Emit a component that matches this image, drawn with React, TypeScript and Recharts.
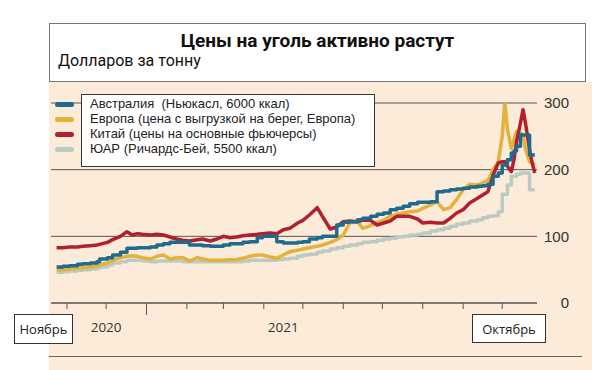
import { LineChart, Line, XAxis, YAxis, CartesianGrid } from "recharts";

// days since 1 Nov 2020
const days = [
  -8, -3, 2, 8, 12, 18, 23, 25, 31, 35,
  41, 46, 50, 54, 58, 64, 69, 74, 79, 84,
  89, 94, 100, 104, 110, 115, 120, 125, 130, 135,
  140, 146, 150, 156, 161, 166, 171, 177, 181, 186,
  192, 196, 202, 207, 212, 217, 223, 227, 233, 238,
  243, 248, 253, 258, 263, 269, 273, 279, 284, 289,
  294, 299, 304, 309, 315, 319, 323, 327, 331, 334,
  336, 338, 341, 343, 345, 348, 350, 352, 355, 357,
  359,
];

const australia = [
  54, 55, 56, 58, 59, 60, 62, 66, 68, 72,
  76, 82, 82, 83, 83, 84, 87, 89, 91, 91,
  91, 87, 87, 86, 85, 85, 87, 89, 89, 91,
  92, 98, 100, 100, 92, 90, 90, 91, 92, 96,
  98, 100, 100, 117, 121, 122, 125, 127, 130, 133,
  135, 140, 142, 145, 149, 151, 151, 152, 167, 168,
  170, 171, 172, 174, 175, 176, 178, 190, 195, 207,
  207, 215, 225, 228, 235, 252, 252, 252, 222, 222,
  222,
];

const europe = [
  50, 50, 51, 52, 53, 54, 56, 57, 60, 64,
  68, 70, 71, 70, 68, 66, 70, 72, 66, 68,
  68, 63, 68, 66, 64, 64, 64, 65, 65, 67,
  70, 72, 72, 69, 67, 72, 77, 79, 81, 83,
  85, 87, 91, 95, 102, 120, 122, 112, 116, 121,
  124, 130, 133, 135, 137, 138, 142, 147, 152, 140,
  143, 155, 170, 178, 177, 180, 184, 200, 212, 250,
  302, 260, 232, 245, 257, 255, 252, 230, 212, 210,
  207,
];

const china = [
  83, 83, 84, 84, 85, 86, 87, 88, 91, 95,
  100, 107, 102, 104, 103, 102, 103, 102, 99, 96,
  94, 93, 95, 96, 93, 96, 100, 98, 99, 101,
  102, 103, 104, 105, 104, 110, 112, 120, 124, 132,
  143, 130, 111, 114, 122, 123, 122, 124, 124, 117,
  120, 123, 130, 130, 130, 126, 120, 121, 120, 120,
  127, 135, 140, 150, 157, 162, 167, 192, 210, 212,
  212, 205, 197, 215, 242, 270, 290, 268, 230, 210,
  195,
];

const southAfrica = [
  46, 47, 48, 49, 50, 51, 52, 54, 57, 60,
  62, 64, 64, 64, 63, 62, 63, 63, 63, 63,
  62, 62, 62, 62, 62, 62, 62, 62, 62, 63,
  64, 64, 64, 64, 65, 66, 67, 70, 72, 73,
  76, 78, 81, 83, 85, 87, 89, 91, 92, 94,
  96, 97, 99, 100, 102, 103, 105, 108, 110, 112,
  115, 118, 120, 123, 125, 128, 130, 131, 137, 163,
  163, 177, 190, 190, 193, 195, 195, 195, 170, 170,
  170,
];

const monthTicks = [0, 30, 61, 92, 120, 151, 181, 212, 242, 273, 304, 334];
const yearTicks = [30, 166];
const yearLabels: Record<number, string> = { 30: "2020", 166: "2021" };
const yTicks = [0, 100, 200, 300];

const series = [
  { key: "australia", name: "Австралия  (Ньюкасл, 6000 ккал)", color: "#1f6b8e", step: true },
  { key: "europe", name: "Европа (цена с выгрузкой на берег, Европа)", color: "#e2b23a", step: false },
  { key: "china", name: "Китай (цены на основные фьючерсы)", color: "#b2202d", step: false },
  { key: "southAfrica", name: "ЮАР (Ричардс-Бей, 5500 ккал)", color: "#b9cbc3", step: true },
];
const drawOrder = ["southAfrica", "europe", "china", "australia"];

const data = days.map((day, i) => ({
  day,
  australia: australia[i],
  europe: europe[i],
  china: china[i],
  southAfrica: southAfrica[i],
}));

function MonthTick({ x, y, payload }: any) {
  const long = payload.value === 61;
  return <line x1={x} x2={x} y1={y} y2={y + (long ? 12 : 6)} stroke="#555" strokeWidth={1} />;
}

const sans = "'Liberation Sans', Arial, sans-serif";
const openSans = "'Open Sans', sans-serif";

const boxLabel = {
  position: "absolute" as const,
  background: "#fff",
  border: "1px solid #333",
  fontFamily: openSans,
  fontSize: 13,
  color: "#222",
  display: "flex",
  alignItems: "center",
  justifyContent: "center",
  boxSizing: "border-box" as const,
};

export default function App() {
  return (
    <div style={{ position: "absolute", left: 0, top: 0, width: 598, height: 370, background: "#fff", overflow: "hidden" }}>
      <div style={{ position: "absolute", left: 49, top: 82, width: 543, height: 288, background: "#fcebd9" }} />
      <div
        style={{
          position: "absolute",
          left: 49,
          top: 23,
          width: 537,
          height: 59,
          background: "#fff",
          border: "1.5px solid #777",
          boxSizing: "border-box",
        }}
      >
        <div style={{ position: "absolute", left: 0, right: 0, top: 5, textAlign: "center", fontFamily: "Roboto, sans-serif", fontWeight: 700, fontSize: 19, color: "#111" }}>
          Цены на уголь активно растут
        </div>
        <div style={{ position: "absolute", left: 8, top: 27, fontFamily: "Roboto, sans-serif", fontSize: 16, color: "#111" }}>
          Долларов за тонну
        </div>
      </div>
      <div style={{ position: "absolute", left: 49, top: 356, width: 533, height: 1, background: "#666" }} />

      <div style={{ position: "absolute", left: 0, top: 0 }}>
        <LineChart width={598} height={370} data={data} margin={{ top: 103, right: 21, bottom: 23, left: 51 }}>
          <CartesianGrid horizontal vertical={false} stroke="#555" strokeWidth={1} />
          <XAxis
            dataKey="day"
            type="number"
            domain={[-12.3, 360.7]}
            ticks={monthTicks}
            height={14}
            tickLine={false}
            tickSize={0}
            tickMargin={0}
            tick={<MonthTick />}
            axisLine={{ stroke: "#555" }}
          />
          <XAxis
            xAxisId="year"
            dataKey="day"
            type="number"
            domain={[-12.3, 360.7]}
            ticks={yearTicks}
            tickFormatter={(v: number) => yearLabels[v] ?? ""}
            height={30}
            tickLine={false}
            axisLine={false}
            tickSize={0}
            tickMargin={5}
            tick={{ fill: "#333", fontSize: 13.5, fontFamily: openSans }}
          />
          <YAxis
            orientation="right"
            domain={[0, 300]}
            allowDataOverflow
            ticks={yTicks}
            width={40}
            tickLine={false}
            axisLine={false}
            tickSize={0}
            tickMargin={32}
            tick={{ fill: "#333", fontSize: 15, fontFamily: sans, textAnchor: "end" }}
          />
          {drawOrder.map((k) => {
            const s = series.find((x) => x.key === k)!;
            return (
              <Line
                key={k}
                dataKey={k}
                type={s.step ? "stepAfter" : "linear"}
                stroke={s.color}
                strokeWidth={3.5}
                strokeLinejoin="round"
                dot={false}
                isAnimationActive={false}
              />
            );
          })}
        </LineChart>
      </div>

      <div
        style={{
          position: "absolute",
          left: 81,
          top: 94,
          width: 294,
          height: 73,
          background: "#fff",
          border: "1.5px solid #333",
          boxSizing: "border-box",
        }}
      />
      {series.map((s, i) => (
        <div key={s.key}>
          <div style={{ position: "absolute", left: 55, top: 102 + i * 15, width: 19, height: 5, borderRadius: 2.5, background: s.color }} />
          <div
            style={{
              position: "absolute",
              left: 90,
              top: 96 + i * 15,
              fontFamily: sans,
              fontSize: 13,
              lineHeight: "16px",
              color: "#222",
              whiteSpace: "pre",
            }}
          >
            {s.name}
          </div>
        </div>
      ))}

      <div style={{ ...boxLabel, left: 14, top: 314, width: 59, height: 30 }}>Ноябрь</div>
      <div style={{ ...boxLabel, left: 472, top: 314, width: 74, height: 29 }}>Октябрь</div>
    </div>
  );
}
